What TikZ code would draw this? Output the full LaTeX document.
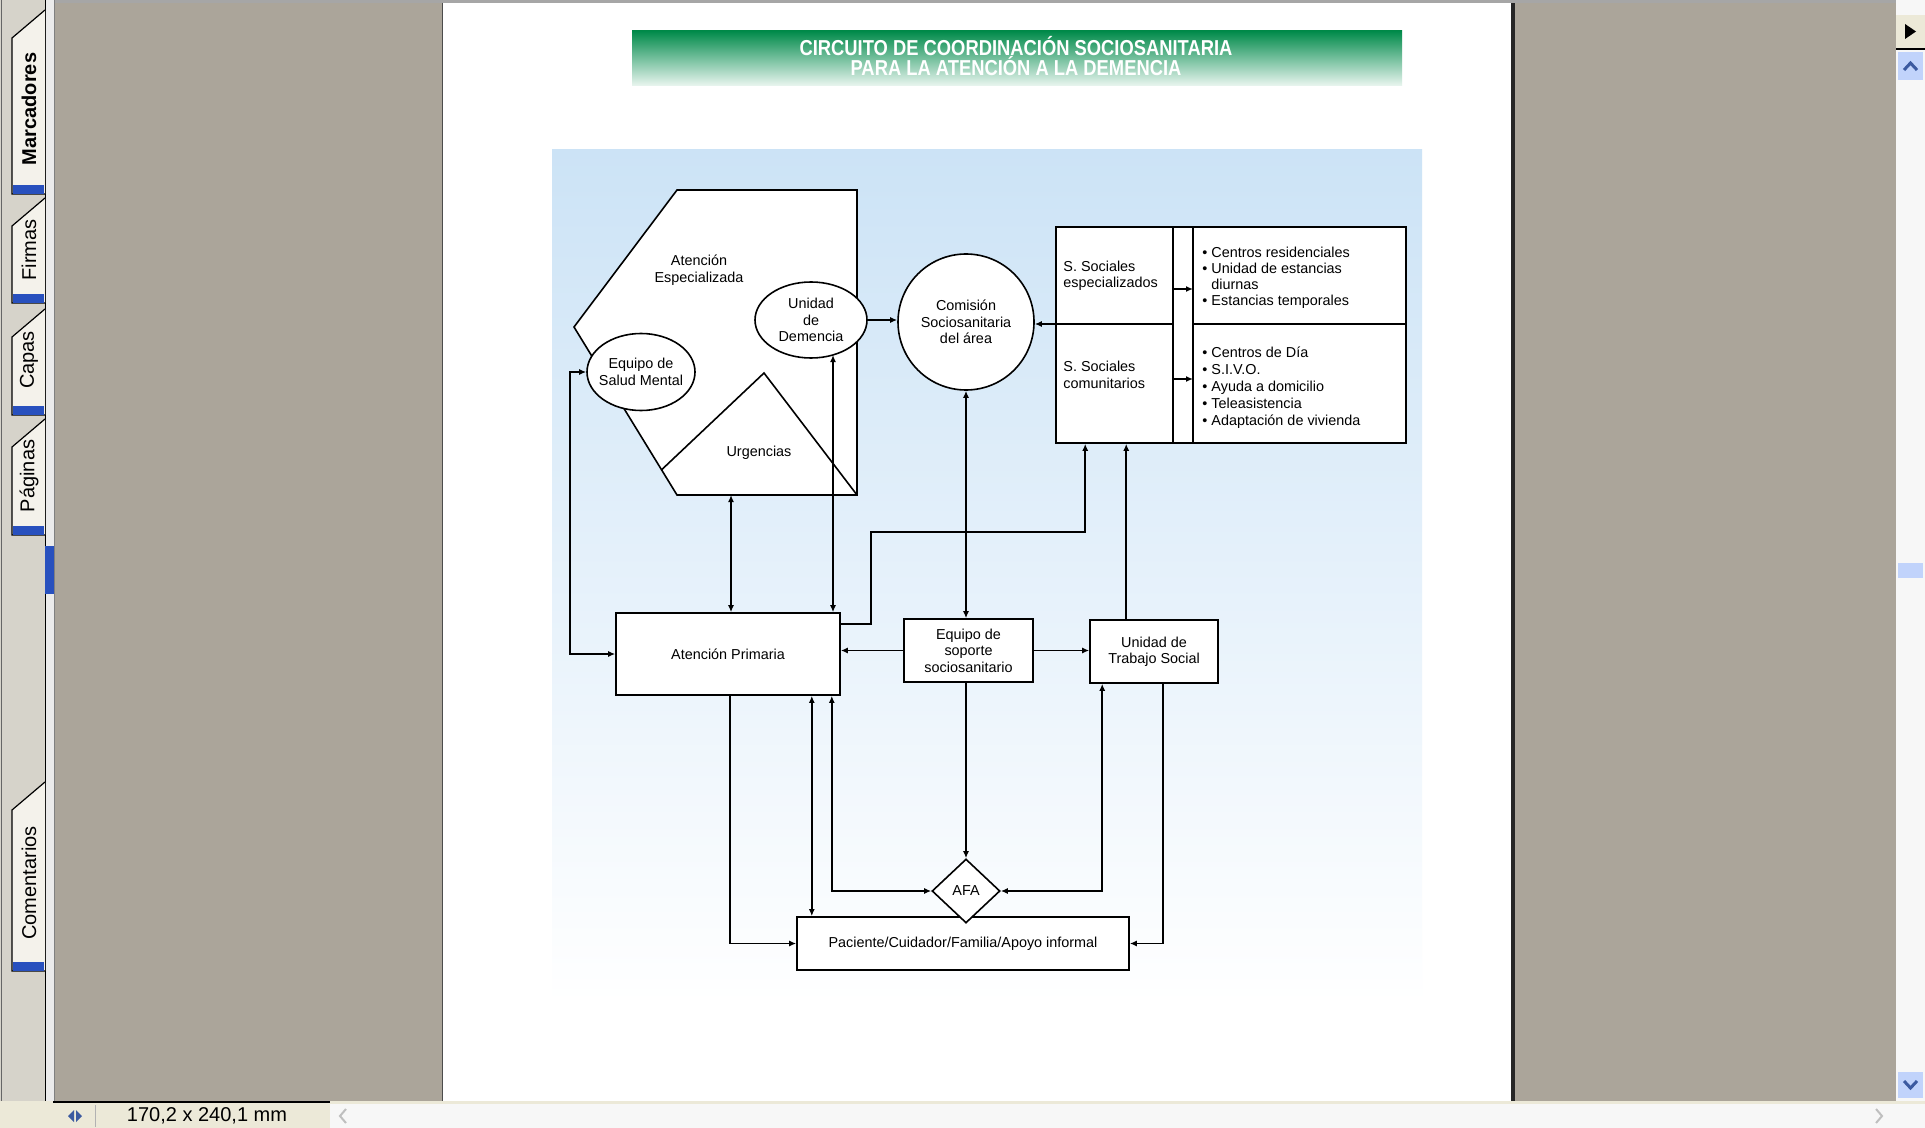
\documentclass[tikz,border=0pt]{standalone}
\usepackage{fontspec}
\setmainfont{Liberation Sans}
\newfontfamily\titlefont[FakeStretch=0.85]{Liberation Sans}
\usetikzlibrary{shapes.geometric,arrows.meta,positioning,calc}

\definecolor{panelgray}{RGB}{171,165,154}
\definecolor{sidegray}{RGB}{214,211,202}
\definecolor{barbeige}{RGB}{236,233,216}
\definecolor{tabcream}{RGB}{244,242,235}
\definecolor{tabblue}{RGB}{40,80,190}
\definecolor{titlegreen}{RGB}{0,138,74}
\definecolor{skyblue}{RGB}{204,227,246}
\definecolor{scrollblue}{RGB}{193,211,251}
\definecolor{arrowblue}{RGB}{60,90,160}

\begin{document}
\begin{tikzpicture}[x=0.5pt, y=-0.5pt,
    every node/.style={font=\fontsize{7.2}{8.2}\selectfont, align=center, inner sep=1pt},
    conn/.style={draw=black, line width=0.8pt},
    arr/.style={conn, -{Latex[length=3.5pt,width=3pt]}},
    dblarrow/.style={conn, {Latex[length=3.5pt,width=3pt]}-{Latex[length=3.5pt,width=3pt]}},
    box/.style={rectangle, draw, line width=0.8pt, fill=white, inner sep=1pt},
    bubble/.style={ellipse, draw, line width=0.8pt, fill=white, inner sep=-3pt},
]
% window
\useasboundingbox (0,0) rectangle (1925,1128);
\fill[panelgray] (0,0) rectangle (1925,1128);
\fill[black!35] (55,0) rectangle (1925,3);

% side bar with tabs
\fill[sidegray] (0,0) rectangle (55,1101);
\draw[black!60] (1.5,0) -- (1.5,1101);
\fill[black!8] (45,0) rectangle (54,1101);
\draw[black] (45,0) -- (45,1101);
\draw[black!50] (54,0) -- (54,1101);
\foreach \t/\b/\name/\mid in {10/194/\textbf{Marcadores}/109, 198/303/Firmas/250, 309/415/Capas/360, 419/535/Páginas/476, 782/971/Comentarios/883} {
  \filldraw[fill=tabcream, draw=black, line width=0.6pt] (45,\t) -- (12,\t+28) -- (12,\b) -- (45,\b);
  \fill[tabblue] (13,\b-9) rectangle (44,\b);
  \node[rotate=90, font=\fontsize{10}{12}\selectfont] (tab-\mid) at (29,\mid) {\name};
}
\fill[tabblue] (45,546) rectangle (54,594);

% status bar
\fill[barbeige] (0,1101) rectangle (1925,1128);
\fill[black!3] (330,1104) rectangle (1925,1128);
\draw[black, line width=1pt] (53,1102) -- (330,1102);
\fill[arrowblue] (68,1116) -- (74,1110) -- (74,1122) -- cycle;
\fill[arrowblue] (82,1116) -- (76,1110) -- (76,1122) -- cycle;
\draw[black!30] (95,1105) -- (95,1127);
\node[font=\fontsize{10}{12}\selectfont] (size) at (207,1116) {170,2 x 240,1 mm};
\draw[black!25, line width=1pt] (346,1109) -- (340,1116) -- (346,1123);
\draw[black!25, line width=1pt] (1876,1109) -- (1882,1116) -- (1876,1123);

% right scroll bar
\fill[black!3] (1896,0) rectangle (1925,1101);
\fill[barbeige] (1896,15) rectangle (1925,48);
\fill[black] (1905,24) -- (1916,31.5) -- (1905,39) -- cycle;
\draw[black, line width=1pt] (1896,49) -- (1925,49);
\fill[scrollblue] (1898,52) rectangle (1923,80);
\draw[arrowblue, line width=1.5pt] (1904,70) -- (1910.5,63) -- (1917,70);
\fill[scrollblue] (1898,563) rectangle (1923,578);
\fill[scrollblue] (1898,1072) rectangle (1923,1098);
\draw[arrowblue, line width=1.5pt] (1904,1081) -- (1910.5,1088) -- (1917,1081);

% page
\fill[white] (442,3) rectangle (1512,1101);
\draw[black!70] (442,3) -- (442,1101);
\fill[black!85] (1511,3) rectangle (1515,1101);

% title banner
\shade[top color=titlegreen, middle color=titlegreen!70!white, bottom color=titlegreen!8!white] (632,31) rectangle (1402,86);
\node[font=\titlefont\bfseries\fontsize{10.8}{10}\selectfont, text=white] (title) at (1016,56)
  {CIRCUITO DE COORDINACIÓN SOCIOSANITARIA\\PARA LA ATENCIÓN A LA DEMENCIA};

% diagram background
\shade[top color=skyblue, middle color=skyblue!55!white, bottom color=white] (552,150) rectangle (1422,1004);

% Atencion Especializada
\coordinate (aeNW) at (677,190);
\coordinate (aeNE) at (857,190);
\coordinate (aeSE) at (857,495);
\coordinate (aeSW) at (677,495);
\coordinate (aeW) at (574,327);
\filldraw[fill=white, conn] (aeNW) -- (aeNE) -- (aeSE) -- (aeSW) -- (aeW) -- cycle;
\coordinate (urgL) at ($(aeW)!0.85!(aeSW)$);
\coordinate (urgT) at (764,373);
\draw[conn] (urgL) -- (urgT) -- (aeSE);
\node (aetxt) at (699,270) {Atención\\Especializada};
\node (urg) at (759,453) {Urgencias};

\node[bubble, minimum width=56pt, minimum height=38pt] (ud) at (811,320) {Unidad\\de\\Demencia};
\node[bubble, minimum width=54pt, minimum height=38.5pt] (esm) at (641,372) {Equipo de\\Salud Mental};
\node[circle, draw, fill=white, line width=0.8pt, minimum size=68pt, inner sep=0pt] (com) at (966,322) {Comisión\\Sociosanitaria\\del área};

% servicios sociales
\node[box, minimum width=175pt, minimum height=108pt, inner sep=0pt] (ss) at (1231,335) {};
\coordinate (c1) at (1173,227);
\coordinate (c2) at (1193,227);
\coordinate (mid) at (1056,324);
\draw[conn] (c1) -- (c1 |- ss.south);
\draw[conn] (c2) -- (c2 |- ss.south);
\draw[conn] (mid) -- (mid -| c1);
\draw[conn] (mid -| c2) -- (mid -| ss.east);
\node[anchor=west, align=left] (sse) at (1061,276) {S. Sociales\\especializados};
\node[anchor=west, align=left] (ssc) at (1061,375) {S. Sociales\\comunitarios};
\node[anchor=west, align=left, font=\fontsize{7.2}{8}\selectfont] (lste) at (1200,278)
  {\textbullet\ Centros residenciales\\\textbullet\ Unidad de estancias\\\phantom{\textbullet\ }diurnas\\\textbullet\ Estancias temporales};
\node[anchor=west, align=left, font=\fontsize{7.2}{8.5}\selectfont] (lstc) at (1200,388)
  {\textbullet\ Centros de Día\\\textbullet\ S.I.V.O.\\\textbullet\ Ayuda a domicilio\\\textbullet\ Teleasistencia\\\textbullet\ Adaptación de vivienda};
\coordinate (ar1) at (1173,289);
\coordinate (ar2) at (1173,379);
\draw[arr] (ar1) -- (ar1 -| c2);
\draw[arr] (ar2) -- (ar2 -| c2);

% lower boxes
\node[box, minimum width=112pt, minimum height=41pt] (ap) at (728,654) {Atención Primaria};
\node[box, minimum width=64.5pt, minimum height=31.5pt] (sop) at (968.5,650.5) {Equipo de\\soporte\\sociosanitario};
\node[box, minimum width=64pt, minimum height=31.5pt] (uts) at (1154,651.5) {Unidad de\\Trabajo Social};
\node[box, minimum width=166pt, minimum height=26.5pt] (pac) at (963,943.5) {Paciente/Cuidador/Familia/Apoyo informal};
\node[diamond, draw, fill=white, line width=0.8pt, minimum width=34pt, minimum height=32pt, inner sep=0pt] (afa) at (966,891) {AFA};

% connectors
\coordinate (ae1) at ($(aeSW)!0.3!(aeSE)$);
\draw[dblarrow] (ae1) -- (ae1 |- ap.north);
\coordinate (ud1) at (833,355);
\draw[dblarrow] (ud1) -- (ud1 |- ap.north);
\draw[dblarrow] (ap.west) -- ++(-45,0) |- (esm.west);
\coordinate (k1) at (871,532);
\draw[arr] ([yshift=-6pt]ap.north east) -| (k1) -| ([xshift=15pt]ss.south west);
\draw[arr] (ud.east) -- (ud.east -| com.west);
\draw[arr] (mid) -- (mid -| com.east);
\draw[dblarrow] (com.south) -- (com.south |- sop.north);
\draw[arr] (sop.west) -- (sop.west -| ap.east);
\draw[arr] (sop.east) -- (sop.east -| uts.west);
\coordinate (u1) at ([xshift=35.5pt]ss.south west);
\draw[arr] (u1 |- uts.north) -- (u1);
\draw[arr] (com.south |- sop.south) -- (afa.north);
\draw[dblarrow] (afa.west) -| ([xshift=-4.5pt]ap.south east);
\draw[dblarrow] (afa.east) -| ([xshift=6.5pt]uts.south west);
\coordinate (p1) at ([xshift=-14.5pt]ap.south east);
\draw[dblarrow] (p1) -- (p1 |- pac.north);
\coordinate (p2) at ([xshift=57.5pt]ap.south west);
\draw[arr] (p2) |- (pac.west);
\coordinate (p3) at ([xshift=-28pt]uts.south east);
\draw[arr] (p3) |- (pac.east);
\end{tikzpicture}
\end{document}
